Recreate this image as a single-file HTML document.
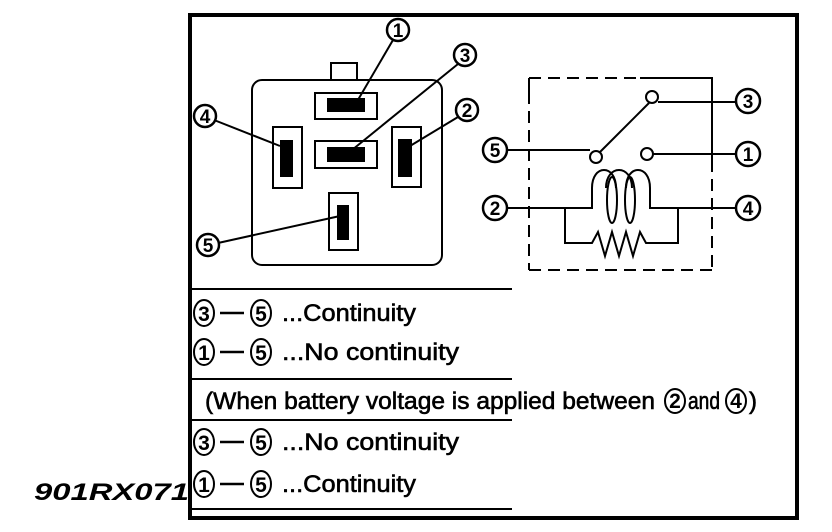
<!DOCTYPE html>
<html><head><meta charset="utf-8"><style>
html,body{margin:0;padding:0;background:#fff;}
svg{display:block;}
text{font-family:"Liberation Sans",Arial,sans-serif;fill:#000;}
</style></head><body>
<svg width="832" height="532" viewBox="0 0 832 532" xmlns="http://www.w3.org/2000/svg">
<rect x="190" y="15" width="607" height="503" fill="none" stroke="#000" stroke-width="4"/>
<g fill="none" stroke="#000" stroke-width="2">
<rect x="252" y="80" width="190" height="185" rx="10"/>
<path d="M331,80 V63 H357 V80"/>
<rect x="315" y="93" width="62" height="26"/>
<rect x="315" y="141" width="62" height="27"/>
<rect x="273" y="127" width="29" height="61"/>
<rect x="392" y="127" width="29" height="60"/>
<rect x="329" y="193" width="29" height="57"/>
</g>
<g fill="#000">
<rect x="327" y="98" width="38" height="14"/>
<rect x="327" y="147" width="38" height="15"/>
<rect x="280" y="140" width="13" height="37"/>
<rect x="398" y="139" width="14" height="38"/>
<rect x="337" y="205" width="12" height="35"/>
</g>
<g stroke="#000" stroke-width="2" fill="none">
<line x1="393" y1="40" x2="355" y2="105"/>
<line x1="458" y1="64" x2="352" y2="150"/>
<line x1="458" y1="117" x2="410" y2="146"/>
<line x1="214" y1="120" x2="280" y2="146"/>
<line x1="218" y1="243" x2="340" y2="216"/>
</g>
<g stroke="#000" stroke-width="2" fill="none">
<path d="M529,78 H640" stroke-dasharray="12,7"/>
<path d="M640,78 H712 V160"/>
<path d="M712,160 V270" stroke-dasharray="12,7"/>
<path d="M529,270 H712" stroke-dasharray="12,7"/>
<path d="M529,78 V92"/>
<path d="M529,92 V270" stroke-dasharray="12,7"/>
<line x1="658" y1="102" x2="737" y2="102"/>
<line x1="506" y1="150" x2="590" y2="150"/>
<line x1="653" y1="154" x2="737" y2="154"/>
<line x1="600" y1="152" x2="649" y2="103"/>
<circle cx="652" cy="97" r="6"/>
<circle cx="596" cy="157" r="6"/>
<circle cx="647" cy="154" r="6"/>
<path d="M506,208 H592 V188 C592,164 616,164 616,188 M606,188 C606,164 632,164 632,188 M626,188 C626,164 650,164 650,188 V208 H737"/>
<ellipse cx="612" cy="200" rx="5" ry="23"/>
<ellipse cx="630" cy="200" rx="5" ry="23"/>
<path d="M565,208 V243 H592 L598,232 L605,256 L612,232 L619,256 L626,232 L633,256 L640,232 L646,243 H678 V208"/>
</g>
<g font-size="19" font-weight="bold" text-anchor="middle">
<g fill="#fff" stroke="#000" stroke-width="2.5">
<circle cx="398" cy="30" r="11"/><circle cx="465" cy="55" r="11"/><circle cx="467" cy="110" r="11"/>
<circle cx="205" cy="116" r="11"/><circle cx="208" cy="245" r="11"/>
<circle cx="748" cy="101" r="12"/><circle cx="495" cy="150" r="12"/><circle cx="748" cy="154" r="12"/>
<circle cx="495" cy="208" r="12"/><circle cx="748" cy="208" r="12"/>
</g>
<text x="398" y="37">1</text><text x="465" y="62">3</text><text x="467" y="117">2</text>
<text x="205" y="123">4</text><text x="208" y="252">5</text>
<text x="748" y="108">3</text><text x="495" y="157">5</text><text x="748" y="161">1</text>
<text x="495" y="215">2</text><text x="748" y="215">4</text>
</g>
<g stroke="#000" stroke-width="2">
<line x1="190" y1="289" x2="512" y2="289"/>
<line x1="190" y1="379" x2="512" y2="379"/>
<line x1="190" y1="420" x2="512" y2="420"/>
<line x1="190" y1="509" x2="512" y2="509"/>
</g>
<g stroke="#000" stroke-width="2" fill="none">
<ellipse cx="204" cy="313" rx="10" ry="13"/><ellipse cx="261" cy="313" rx="10" ry="13"/>
<ellipse cx="204" cy="352" rx="10" ry="13"/><ellipse cx="261" cy="352" rx="10" ry="13"/>
<ellipse cx="675" cy="401" rx="10" ry="12"/><ellipse cx="736" cy="401" rx="10" ry="12"/>
<ellipse cx="204" cy="442" rx="10" ry="13"/><ellipse cx="261" cy="442" rx="10" ry="13"/>
<ellipse cx="204" cy="484" rx="10" ry="13"/><ellipse cx="261" cy="484" rx="10" ry="13"/>
</g>
<g stroke="#000" stroke-width="2.5">
<line x1="220" y1="313" x2="244" y2="313"/><line x1="220" y1="352" x2="244" y2="352"/>
<line x1="220" y1="442" x2="244" y2="442"/><line x1="220" y1="484" x2="244" y2="484"/>
</g>
<g font-size="21" font-weight="bold" text-anchor="middle">
<text x="204" y="321">3</text><text x="261" y="321">5</text>
<text x="204" y="360">1</text><text x="261" y="360">5</text>
<text x="675" y="408">2</text><text x="736" y="408">4</text>
<text x="204" y="450">3</text><text x="261" y="450">5</text>
<text x="204" y="492">1</text><text x="261" y="492">5</text>
</g>
<g font-size="24" stroke="#000" stroke-width="0.6">
<text x="282" y="321" textLength="134" lengthAdjust="spacingAndGlyphs">...Continuity</text>
<text x="282" y="360" textLength="177" lengthAdjust="spacingAndGlyphs">...No continuity</text>
<text x="205" y="409" textLength="450" lengthAdjust="spacingAndGlyphs">(When battery voltage is applied between</text>
<text x="688" y="409" textLength="32" lengthAdjust="spacingAndGlyphs">and</text>
<text x="749" y="409">)</text>
<text x="282" y="450" textLength="177" lengthAdjust="spacingAndGlyphs">...No continuity</text>
<text x="282" y="492" textLength="134" lengthAdjust="spacingAndGlyphs">...Continuity</text>
</g>
<text x="34" y="500" font-size="24" font-weight="bold" font-style="italic" textLength="155" lengthAdjust="spacingAndGlyphs">901RX071</text>
</svg>
</body></html>
